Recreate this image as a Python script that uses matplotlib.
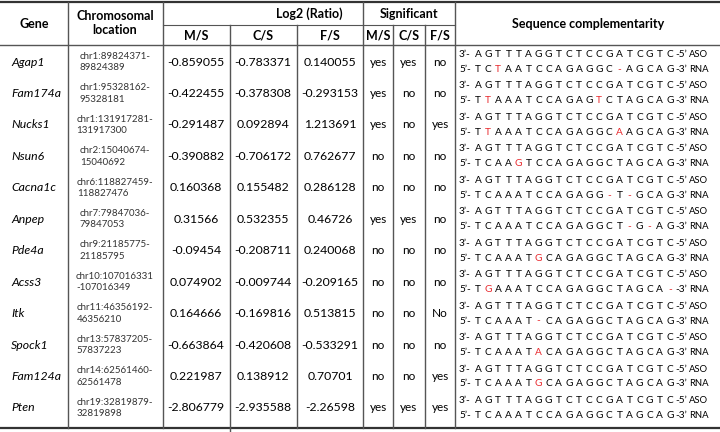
import matplotlib
matplotlib.use('Agg')
import matplotlib.pyplot as plt

plt.rcParams['font.family'] = ['Lato', 'DejaVu Sans']

genes = ['Agap1', 'Fam174a', 'Nucks1', 'Nsun6', 'Cacna1c', 'Anpep',
         'Pde4a', 'Acss3', 'Itk', 'Spock1', 'Fam124a', 'Pten']
chrom = ['chr1:89824371-\n89824389', 'chr1:95328162-\n95328181',
         'chr1:131917281-\n131917300', 'chr2:15040674-\n15040692',
         'chr6:118827459-\n118827476', 'chr7:79847036-\n79847053',
         'chr9:21185775-\n21185795', 'chr10:107016331\n-107016349',
         'chr11:46356192-\n46356210', 'chr13:57837205-\n57837223',
         'chr14:62561460-\n62561478', 'chr19:32819879-\n32819898']
log_ms = [-0.859055, -0.422455, -0.291487, -0.390882, 0.160368, 0.31566,
          -0.09454, 0.074902, 0.164666, -0.663864, 0.221987, -2.806779]
log_cs = [-0.783371, -0.378308, 0.092894, -0.706172, 0.155482, 0.532355,
          -0.208711, -0.009744, -0.169816, -0.420608, 0.138912, -2.935588]
log_fs = [0.140055, -0.293153, 1.213691, 0.762677, 0.286128, 0.46726,
          0.240068, -0.209165, 0.513815, -0.533291, 0.70701, -2.26598]
sig_ms = ['yes', 'yes', 'yes', 'no', 'no', 'yes', 'no', 'no', 'no', 'no', 'no', 'yes']
sig_cs = ['yes', 'no', 'no', 'no', 'no', 'yes', 'no', 'no', 'no', 'no', 'no', 'yes']
sig_fs = ['no', 'no', 'yes', 'no', 'no', 'no', 'no', 'no', 'No', 'no', 'yes', 'yes']

aso = 'AGTTTAGGTCTCCGATCGTC'
rna = ['TCTAATCCAGAGGC-AGCAG', 'TTAAATCCAGAGTCTAGCAG', 'TTAAATCCAGAGGCAAGCAG',
       'TCAAGTCCAGAGGCTAGCAG', 'TCAAATCCAGAGG-T-GCAG', 'TCAAATCCAGAGGCT-G-AG',
       'TCAAATGCAGAGGCTAGCAG', 'TGAAATCCAGAGGCTAGCA-', 'TCAAAT-CAGAGGCTAGCAG',
       'TCAAATACAGAGGCTAGCAG', 'TCAAATGCAGAGGCTAGCAG', 'TCAAATCCAGAGGCTAGCAG']
mismatch = [[2, 14], [1, 12], [1, 14], [4], [13, 15], [15, 17],
            [6], [1, 19], [6], [6], [6], []]

fig = plt.figure(figsize=(7.2, 4.32), dpi=100)
ax = fig.add_axes([0, 0, 1, 1])
ax.set_xlim(0, 720)
ax.set_ylim(432, 0)
ax.axis('off')

lc = '#555555'
# horizontal rules
ax.plot([0, 720], [1.5, 1.5], color='#333333', lw=1.6)
ax.plot([0, 720], [45, 45], color=lc, lw=1)
ax.plot([163, 455], [25, 25], color=lc, lw=0.8)
ax.plot([0, 720], [428, 428], color='#333333', lw=1.6)
# vertical rules
for x in [68, 163, 363, 455]:
    ax.plot([x, x], [1.5, 428], color=lc, lw=1)
for x in [230, 297, 393, 425]:
    ax.plot([x, x], [25, 428], color=lc, lw=1)
ax.plot([230, 230], [428, 432], color=lc, lw=1)

hb = dict(fontsize=9, fontweight='bold', ha='center', va='center')
ax.text(34, 24, 'Gene', **hb)
ax.text(115, 23, 'Chromosomal\nlocation', linespacing=1.3, **hb)
ax.text(309, 14, 'Log2 (Ratio)', **hb)
ax.text(409, 14, 'Significant', **hb)
for x, lab in zip([196, 263, 330, 378, 409, 440], ['M/S', 'C/S', 'F/S'] * 2):
    ax.text(x, 35, lab, **hb)
ax.text(588, 24, 'Sequence complementarity', **hb)

y0, dy = 62, 31.45
x0, dx = 478, 10.1
for i in range(len(genes)):
    y = y0 + i * dy
    ax.text(11, y, genes[i], fontsize=8.8, style='italic', ha='left', va='center')
    ax.text(115, y, chrom[i], fontsize=7, ha='center', va='center',
            multialignment='left', linespacing=1.35, color='#333333')
    for x, v in zip([196, 263, 330], [log_ms[i], log_cs[i], log_fs[i]]):
        ax.text(x, y, str(v), fontsize=8.8, ha='center', va='center')
    for x, s in zip([378, 409, 440], [sig_ms[i], sig_cs[i], sig_fs[i]]):
        ax.text(x, y, s, fontsize=8.5, ha='center', va='center')
    ya, yr = y - 7.5, y + 7.5
    ax.text(459, ya, '3’-', fontsize=7.3, ha='left', va='center')
    ax.text(459, yr, '5’-', fontsize=7.3, ha='left', va='center')
    for k in range(len(aso)):
        ax.text(x0 + k * dx, ya, aso[k], fontsize=7.3, ha='center', va='center')
        col = '#e8262b' if k in mismatch[i] else 'black'
        ax.text(x0 + k * dx, yr, rna[i][k], fontsize=7.3, ha='center', va='center', color=col)
    ax.text(675, ya, '-5’', fontsize=7.3, ha='left', va='center')
    ax.text(675, yr, '-3’', fontsize=7.3, ha='left', va='center')
    ax.text(689, ya, 'ASO', fontsize=6.8, ha='left', va='center')
    ax.text(689, yr, 'RNA', fontsize=6.8, ha='left', va='center')

fig.savefig('out.png', dpi=100)
